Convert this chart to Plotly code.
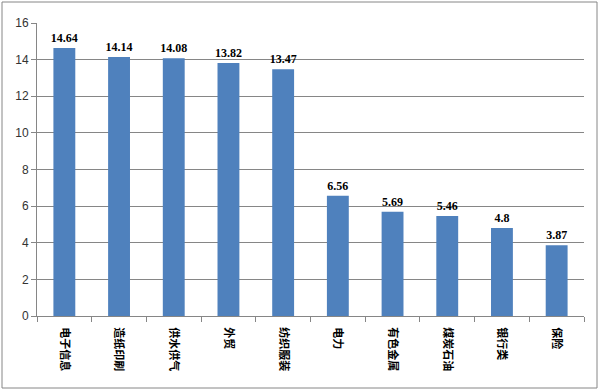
import plotly.graph_objects as go

categories = ["电子信息", "造纸印刷", "供水供气", "外贸", "纺织服装", "电力", "有色金属", "煤炭石油", "银行类", "保险"]
values = [14.64, 14.14, 14.08, 13.82, 13.47, 6.56, 5.69, 5.46, 4.8, 3.87]
value_labels = ["14.64", "14.14", "14.08", "13.82", "13.47", "6.56", "5.69", "5.46", "4.8", "3.87"]
y_ticks = [0, 2, 4, 6, 8, 10, 12, 14, 16]

fig = go.Figure(go.Bar(
    x=categories, y=values, text=value_labels, textposition="outside",
    constraintext="none",
    textfont=dict(family="Liberation Serif, DejaVu Serif", size=12, color="#000000", weight="bold"),
    marker=dict(color="#4F81BD", line=dict(width=0)),
    cliponaxis=False,
))

L, R, T, B = 37, 16, 23, 75
W, H = 600, 391
pw, ph = W - L - R, H - T - B

fig.update_layout(
    width=W, height=H,
    margin=dict(l=L, r=R, t=T, b=B, autoexpand=False),
    paper_bgcolor="white", plot_bgcolor="white",
    bargap=0.6, showlegend=False,
    font=dict(family="Noto Sans CJK SC", color="#000000"),
    xaxis=dict(
        automargin=False,
        tickangle=90, tickfont=dict(family="Noto Sans CJK SC", size=11, color="#000000", weight="bold"),
        ticklabelstandoff=8,
        showline=True, linecolor="#868686", linewidth=1,
        ticks="outside", tickson="boundaries", ticklen=5, tickcolor="#868686",
        showgrid=False,
    ),
    yaxis=dict(
        automargin=False,
        range=[0, 16], tickvals=y_ticks,
        tickfont=dict(family="Liberation Sans, Arial", size=12, color="#333333"),
        showline=True, linecolor="#868686", linewidth=1,
        ticks="outside", ticklen=5, tickcolor="#868686",
        showgrid=True, gridcolor="#868686", gridwidth=1, zeroline=False,
    ),
    shapes=[dict(
        type="rect", xref="paper", yref="paper",
        x0=(2 - L) / pw, x1=(597 - L) / pw,
        y0=(H - B - 388) / ph, y1=(H - B - 2) / ph,
        line=dict(color="#868686", width=1), fillcolor="rgba(0,0,0,0)", layer="below",
    )],
)

fig.write_html(
    "out.html",
    config={"displayModeBar": False},
    post_script="document.body.style.margin='0';document.body.style.overflow='hidden';",
)
